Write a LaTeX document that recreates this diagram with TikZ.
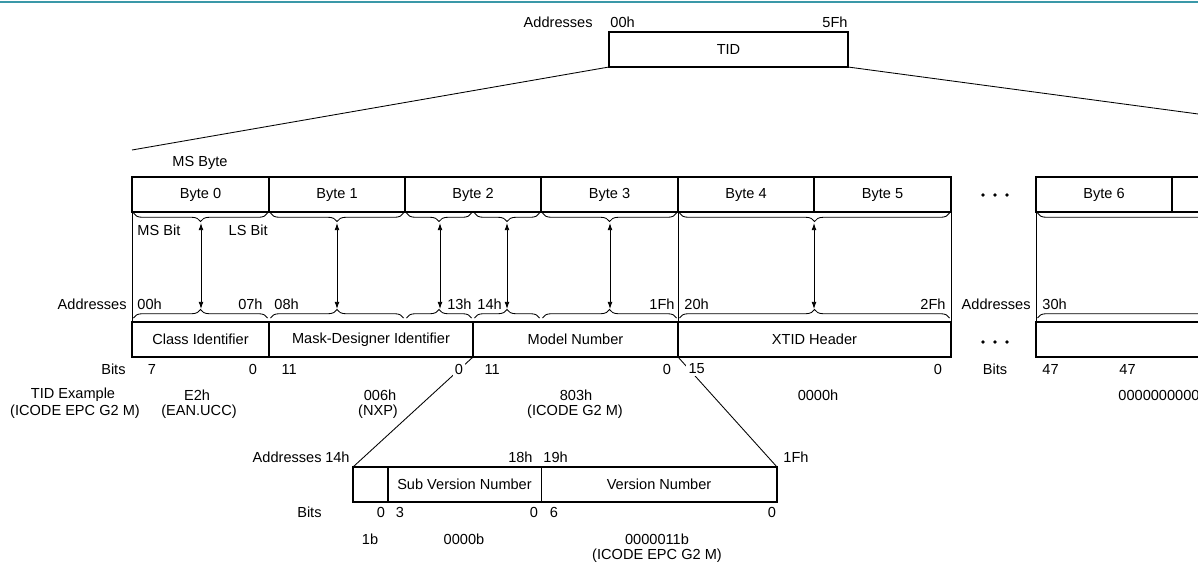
\documentclass[tikz,border=0pt]{standalone}
\usepackage{fontspec}
\setmainfont{Liberation Sans}
\usetikzlibrary{arrows.meta,decorations.pathreplacing}
\definecolor{tealrule}{RGB}{58,152,168}

\begin{document}
\begin{tikzpicture}[x=0.7pt,y=-0.7pt,line width=0.6pt,>={Latex[length=5pt,width=3.4pt]},
  font=\fontsize{10.2}{12}\selectfont,
  frame/.style={draw,line width=1.3pt},
  lbl/.style={inner sep=0pt},
  bitlbl/.style={fill=white,inner sep=1.5pt},
  downbrace/.style={decorate,decoration={brace,mirror,amplitude=6pt}},
  upbrace/.style={decorate,decoration={brace,amplitude=6pt}}]
  \useasboundingbox (0,0) rectangle (1198,566);
  \clip (0,0) rectangle (1198,566);
  \draw[tealrule,line width=1pt] (0,2) -- (1198,2);
  % bloque TID completo
  \draw[frame] (609,32) rectangle (848,67) node[midway] (tid) {TID};
  \node[lbl,anchor=east] (tidaddr) at (593,22) {Addresses};
  \node[lbl,anchor=west] (tidlo) at (610,22) {00h};
  \node[lbl,anchor=east] (tidhi) at (848,22) {5Fh};
  \coordinate (tidsw) at (609,67); \coordinate (tidse) at (848,67);
  \coordinate (zoomw) at (132,150); \coordinate (zoome) at (1310,129);
  \draw (tidsw) -- (zoomw); \draw (tidse) -- (zoome);
  % fila de bytes
  \node[lbl] (msbyte) at (200,163) {MS Byte};
  \foreach \xa/\xb/\t [count=\i] in {132/269/Byte 0,269/405/Byte 1,405/541/Byte 2,541/678/Byte 3,678/814/Byte 4,814/951/Byte 5,1036/1172/Byte 6,1172/1320/}
    \draw[frame] (\xa,177) rectangle (\xb,212) node[midway] (byte\i) {\t};
  \foreach \y in {195,342} \foreach \x in {983,995,1007} \fill (\x,\y) circle (1.3pt);
  % marco entre bytes y campos
  \foreach \x in {132,678,951,1036} \draw (\x,212) -- (\x,322);
  \foreach \xa/\xb in {132/269,269/405,405/473,473/541,541/678,678/951,1036/1480}{
    \draw[downbrace] (\xa+1.5,213) -- (\xb-1.5,213);
    \draw[upbrace] (\xa+1.5,318) -- (\xb-1.5,318);
  }
  \foreach \x [count=\i] in {201,337,440,507,610,814}{
    \coordinate (up\i) at (\x,223); \coordinate (dn\i) at (\x,309);
    \draw[<->] (up\i) -- (dn\i);
  }
  \node[lbl,anchor=west] (msbit) at (137,230) {MS Bit};
  \node[lbl,anchor=east] (lsbit) at (268,230) {LS Bit};
  % direcciones
  \node[lbl,anchor=east] (addr) at (127,304) {Addresses};
  \node[lbl,anchor=west] at (137,304) {00h}; \node[lbl,anchor=east] at (263,304) {07h};
  \node[lbl,anchor=west] at (274,304) {08h}; \node[lbl,anchor=east] at (472,304) {13h};
  \node[lbl,anchor=west] at (477,304) {14h}; \node[lbl,anchor=east] at (675,304) {1Fh};
  \node[lbl,anchor=west] at (684,304) {20h}; \node[lbl,anchor=east] at (946,304) {2Fh};
  \node[lbl,anchor=east] (addrb) at (1031,304) {Addresses};
  \node[lbl,anchor=west] at (1042,304) {30h};
  % campos del TID
  \foreach \xa/\xb/\t [count=\i] in {132/269/Class Identifier,269/473/Mask-Designer Identifier,473/678/Model Number,678/951/XTID Header,1036/1320/}
    \draw[frame] (\xa,322) rectangle (\xb,357) node[midway] (field\i) {\t};
  % ampliacion del numero de modelo
  \coordinate (mnsw) at (473,357); \coordinate (mnse) at (678,357);
  \coordinate (subnw) at (353,467); \coordinate (subne) at (777,467);
  \draw (mnsw) -- (subnw); \draw (mnse) -- (subne);
  % bits
  \node[lbl,anchor=east] (bits) at (126,369) {Bits};
  \node[bitlbl] at (152,369) {7}; \node[bitlbl] at (253,369) {0};
  \node[bitlbl,anchor=west] at (279,369) {11}; \node[bitlbl] at (459,369) {0};
  \node[bitlbl,anchor=west] at (482,369) {11}; \node[bitlbl] at (667,369) {0};
  \node[bitlbl,anchor=west] at (686,369) {15}; \node[bitlbl] at (938,369) {0};
  \node[lbl] (bitsb) at (995,369) {Bits};
  \node[lbl,anchor=west] at (1042,369) {47}; \node[lbl,anchor=west] at (1119,369) {47};
  % ejemplo
  \node[lbl] (ex) at (73,395) {TID Example}; \node[lbl] at (75,412) {(ICODE EPC G2 M)};
  \node[lbl] at (197,395) {E2h}; \node[lbl] at (199,412) {(EAN.UCC)};
  \node[lbl] at (380,395) {006h}; \node[lbl] at (378,412) {(NXP)};
  \node[lbl] at (576,395) {803h}; \node[lbl] at (575,412) {(ICODE G2 M)};
  \node[lbl] at (818,395) {0000h};
  \node[lbl,anchor=west] at (1118,395) {000000000000h};
  % detalle del numero de modelo
  \draw[frame] (subnw) rectangle (777,502);
  \draw[frame] (388,467) -- (388,502); \draw (541,467) -- (541,502);
  \node[lbl] (subver) at (464.5,484.5) {Sub Version Number};
  \node[lbl] (ver) at (659,484.5) {Version Number};
  \node[lbl,anchor=east] at (322,457) {Addresses}; \node[lbl,anchor=east] at (350,457) {14h};
  \node[lbl,anchor=east] at (533,457) {18h}; \node[lbl,anchor=west] at (543,457) {19h};
  \node[lbl,anchor=west] at (783,457) {1Fh};
  \node[lbl,anchor=east] at (322,512) {Bits};
  \node[lbl] at (381,512) {0}; \node[lbl] at (400,512) {3};
  \node[lbl] at (534,512) {0}; \node[lbl] at (554,512) {6}; \node[lbl] at (772,512) {0};
  \node[lbl] at (370,539) {1b}; \node[lbl] at (464,539) {0000b};
  \node[lbl] at (657,539) {0000011b}; \node[lbl] at (657,556) {(ICODE EPC G2 M)};
\end{tikzpicture}
\end{document}
